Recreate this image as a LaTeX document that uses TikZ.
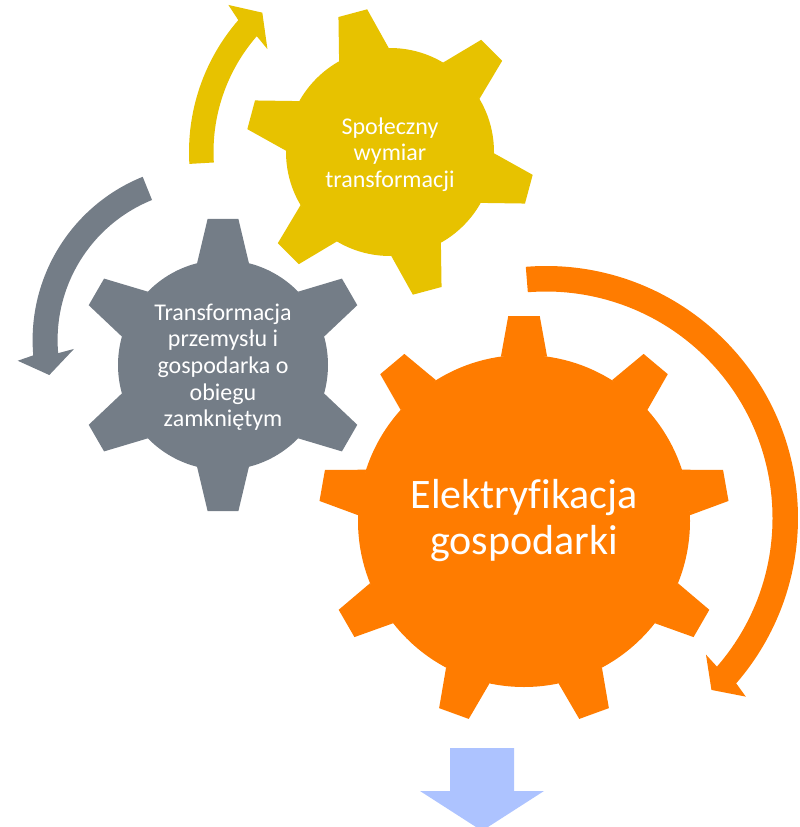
\documentclass[tikz,border=0pt]{standalone}
\usepackage{fontspec}
\setmainfont[Ligatures=NoCommon]{Carlito}
\usetikzlibrary{calc}

\definecolor{gearyellow}{HTML}{E7C200}
\definecolor{geargray}{HTML}{747D87}
\definecolor{gearorange}{HTML}{FF7C00}
\definecolor{downblue}{HTML}{ADC3FF}

\tikzset{
	gearbody/.style={circle, inner sep=0pt, align=center, text=white},
	smalltext/.style={font=\fontsize{24}{26.6}\selectfont},
	bigtext/.style={font=\fontsize{42}{46}\selectfont}
}

% node, body radius, tip radius, base half angle, tip half angle, tooth angles
\newcommand{\gearTeeth}[6]{
	\foreach \a in {#6}
		\fill ($(#1)+(\a-#4:#2)$) -- ($(#1)+(\a-#5:#3)$) -- ($(#1)+(\a+#5:#3)$) -- ($(#1)+(\a+#4:#2)$) -- cycle;
}
% centre, outer radius, inner radius, start, end, head as three polar points
\newcommand{\gearArrow}[8]{
	\fill ($(#1)+(#4:#2)$) arc[start angle=#4, end angle=#5, radius=#2]
		-- ($(#1)+(#6)$) -- ($(#1)+(#7)$) -- ($(#1)+(#8)$)
		-- ($(#1)+(#5:#3)$) arc[start angle=#5, end angle=#4, radius=#3] -- cycle;
}

\begin{document}
\begin{tikzpicture}[x=1pt, y=1pt]
	\useasboundingbox (0,0) rectangle (800,-827);

	% yellow gear
	\node[gearbody, smalltext, fill=gearyellow, minimum size=208pt] (social) at (390,-152) {\rule{0pt}{22pt}Społeczny\\wymiar\\transformacji};
	\begin{scope}[gearyellow]
		\gearTeeth{social}{104}{144.5}{14.3}{5.9}{105,45,-15,-75,-135,165}
		\gearArrow{social}{201}{176.5}{183.4}{139}{137.7:218.5}{132.5:189}{140:160}
	\end{scope}

	% gray gear
	\node[gearbody, smalltext, fill=geargray, minimum size=210pt] (industry) at (223,-365) {\rule{0pt}{21pt}Transformacja\\przemysłu i\\gospodarka o\\obiegu\\zamkniętym};
	\coordinate (grayarc) at (208.6,-340);
	\begin{scope}[geargray]
		\gearTeeth{industry}{105}{147}{14.3}{6}{90,30,-30,-90,-150,150}
		\gearArrow{grayarc}{176}{151}{112}{185}{186.2:192}{192.4:163.1}{183.8:134.9}
	\end{scope}

	% orange gear
	\node[gearbody, bigtext, fill=gearorange, minimum size=332pt] (electric) at (524,-521) {Elektryfikacja\\gospodarki};
	\coordinate (orangearc) at (546,-518);
	\begin{scope}[gearorange]
		\gearTeeth{electric}{166}{205.5}{8}{4.4}{90,50,10,-30,-70,-110,-150,170,130}
		\gearArrow{orangearc}{252}{226.5}{94.6}{-41}{-41.8:268}{-46.1:238.6}{-40.5:210.4}
	\end{scope}

	% arrow at the bottom, cut by the page
	\fill[downblue] (450,-748) -- (514,-748) -- (514,-791) -- (544,-791) -- (488,-827) -- (476,-827) -- (420,-791) -- (450,-791) -- cycle;
\end{tikzpicture}
\end{document}
